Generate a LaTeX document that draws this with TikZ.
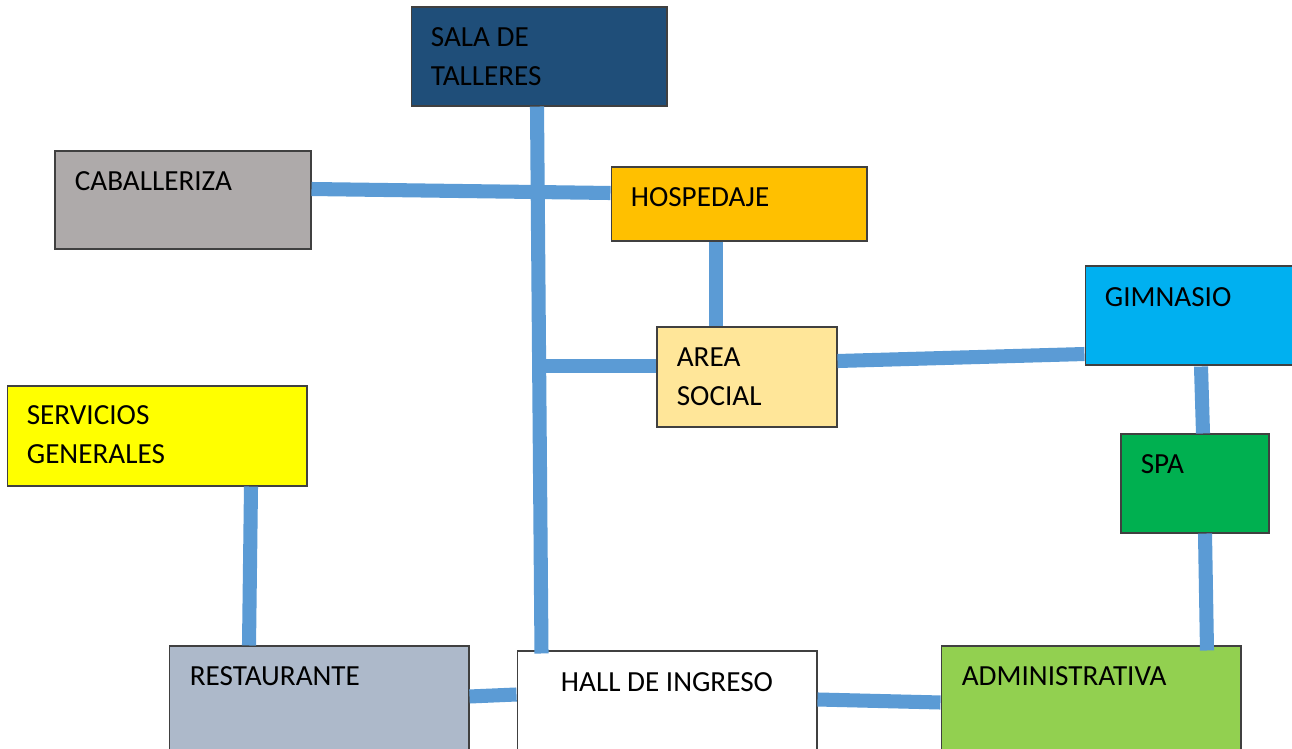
\documentclass[tikz,border=0pt]{standalone}
\usepackage{fontspec}
\setmainfont{Carlito}
\usepackage{xcolor}
\usetikzlibrary{calc, positioning}

\definecolor{linkblue}{HTML}{5B9BD5}
\definecolor{talleres}{HTML}{1F4E79}
\definecolor{caballeriza}{HTML}{AEAAAA}
\definecolor{hospedaje}{HTML}{FFC000}
\definecolor{gimnasio}{HTML}{00B0F0}
\definecolor{social}{HTML}{FFE699}
\definecolor{servicios}{HTML}{FFFF00}
\definecolor{spa}{HTML}{00B050}
\definecolor{restaurante}{HTML}{ADB9CA}
\definecolor{admin}{HTML}{92D050}

\begin{document}
\begin{tikzpicture}[x=0.02cm, y=-0.02cm,
			room/.style={draw=black!75, line width=0.6pt, rectangle, inner sep=0pt},
			tag/.style={font=\fontsize{16.6}{22.2}\selectfont, align=left, inner sep=0pt, text=black},
			link/.style={linkblue, line width=8pt, line cap=butt}
			]
			\useasboundingbox (0,0) rectangle (1292,748);
			
			% areas
			\node [room, fill=talleres, minimum width=5.12cm, minimum height=1.98cm](sala) at (539,56.5) {};
			\node [room, fill=caballeriza, minimum width=5.12cm, minimum height=1.96cm](caba) at (183,200) {};
			\node [room, fill=hospedaje, minimum width=5.12cm, minimum height=1.48cm](hosp) at (739,204) {};
			\node [room, fill=gimnasio, minimum width=5.12cm, minimum height=1.98cm](gim) at (1213,315.5) {};
			\node [room, fill=social, minimum width=3.6cm, minimum height=2cm](area) at (747,377) {};
			\node [room, fill=servicios, minimum width=6cm, minimum height=2cm](serv) at (157,436) {};
			\node [room, fill=spa, minimum width=2.96cm, minimum height=1.98cm](spa) at (1195,483.5) {};
			\node [room, fill=restaurante, minimum width=6cm, minimum height=2.2cm](rest) at (319,701) {};
			\node [room, fill=white, minimum width=6cm, minimum height=2.2cm](hall) at (667,706) {};
			\node [room, fill=admin, minimum width=6cm, minimum height=2.2cm](adm) at (1091,701) {};
			
			% names (base of two-line names is the second line)
			\node [tag, anchor=base west](salaT) at ($(sala.north west)+(20,79)$) {SALA DE\\TALLERES};
			\node [tag, anchor=base west](cabaT) at ($(caba.north west)+(20,40)$) {CABALLERIZA};
			\node [tag, anchor=base west](hospT) at ($(hosp.north west)+(20,40)$) {HOSPEDAJE};
			\node [tag, anchor=base west](gimT) at ($(gim.north west)+(20,41)$) {GIMNASIO};
			\node [tag, anchor=base west](areaT) at ($(area.north west)+(20,79)$) {AREA\\SOCIAL};
			\node [tag, anchor=base west](servT) at ($(serv.north west)+(20,78)$) {SERVICIOS\\GENERALES};
			\node [tag, anchor=base west](spaT) at ($(spa.north west)+(20,40)$) {SPA};
			\node [tag, anchor=base west](restT) at ($(rest.north west)+(21,40)$) {RESTAURANTE};
			\node [tag, anchor=base](hallT) at ($(hall.north)+(0,41)$) {HALL DE INGRESO};
			\node [tag, anchor=base west](admT) at ($(adm.north west)+(21,40)$) {ADMINISTRATIVA};
			
			% connections
			\coordinate (spineTop) at ($(sala.south)+(-2,0)$);
			\coordinate (spineBot) at ($(hall.north west)+(25,3)$);
			\coordinate (jSocial) at ($(spineTop)!0.475!(spineBot)$);
			
			\draw[link] ($(caba.east)+(0,-11)$) -- ($(hosp.west)+(0,-11)$);
			\draw[link] (spineTop) -- (spineBot);
			\draw[link] ($(hosp.south)+(-23,0)$) -- ($(area.north)+(-31,0)$);
			\draw[link] (jSocial) -- (jSocial -| area.west);
			\draw[link] ($(area.east)+(0,-16)$) -- ($(gim.west)+(0,38.5)$);
			\draw[link] ($(gim.south)+(-12,1)$) -- ($(spa.north)+(8,0)$);
			\draw[link] ($(spa.south)+(10,0)$) -- ($(adm.north)+(116,5)$);
			\draw[link] ($(serv.south)+(94,0)$) -- ($(rest.north)+(-70,0)$);
			\draw[link] ($(rest.north east)+(0,51)$) -- ($(hall.north west)+(0,44)$);
			\draw[link] ($(hall.north east)+(0,49)$) -- ($(adm.north west)+(0,57)$);
			
		\end{tikzpicture}
\end{document}
